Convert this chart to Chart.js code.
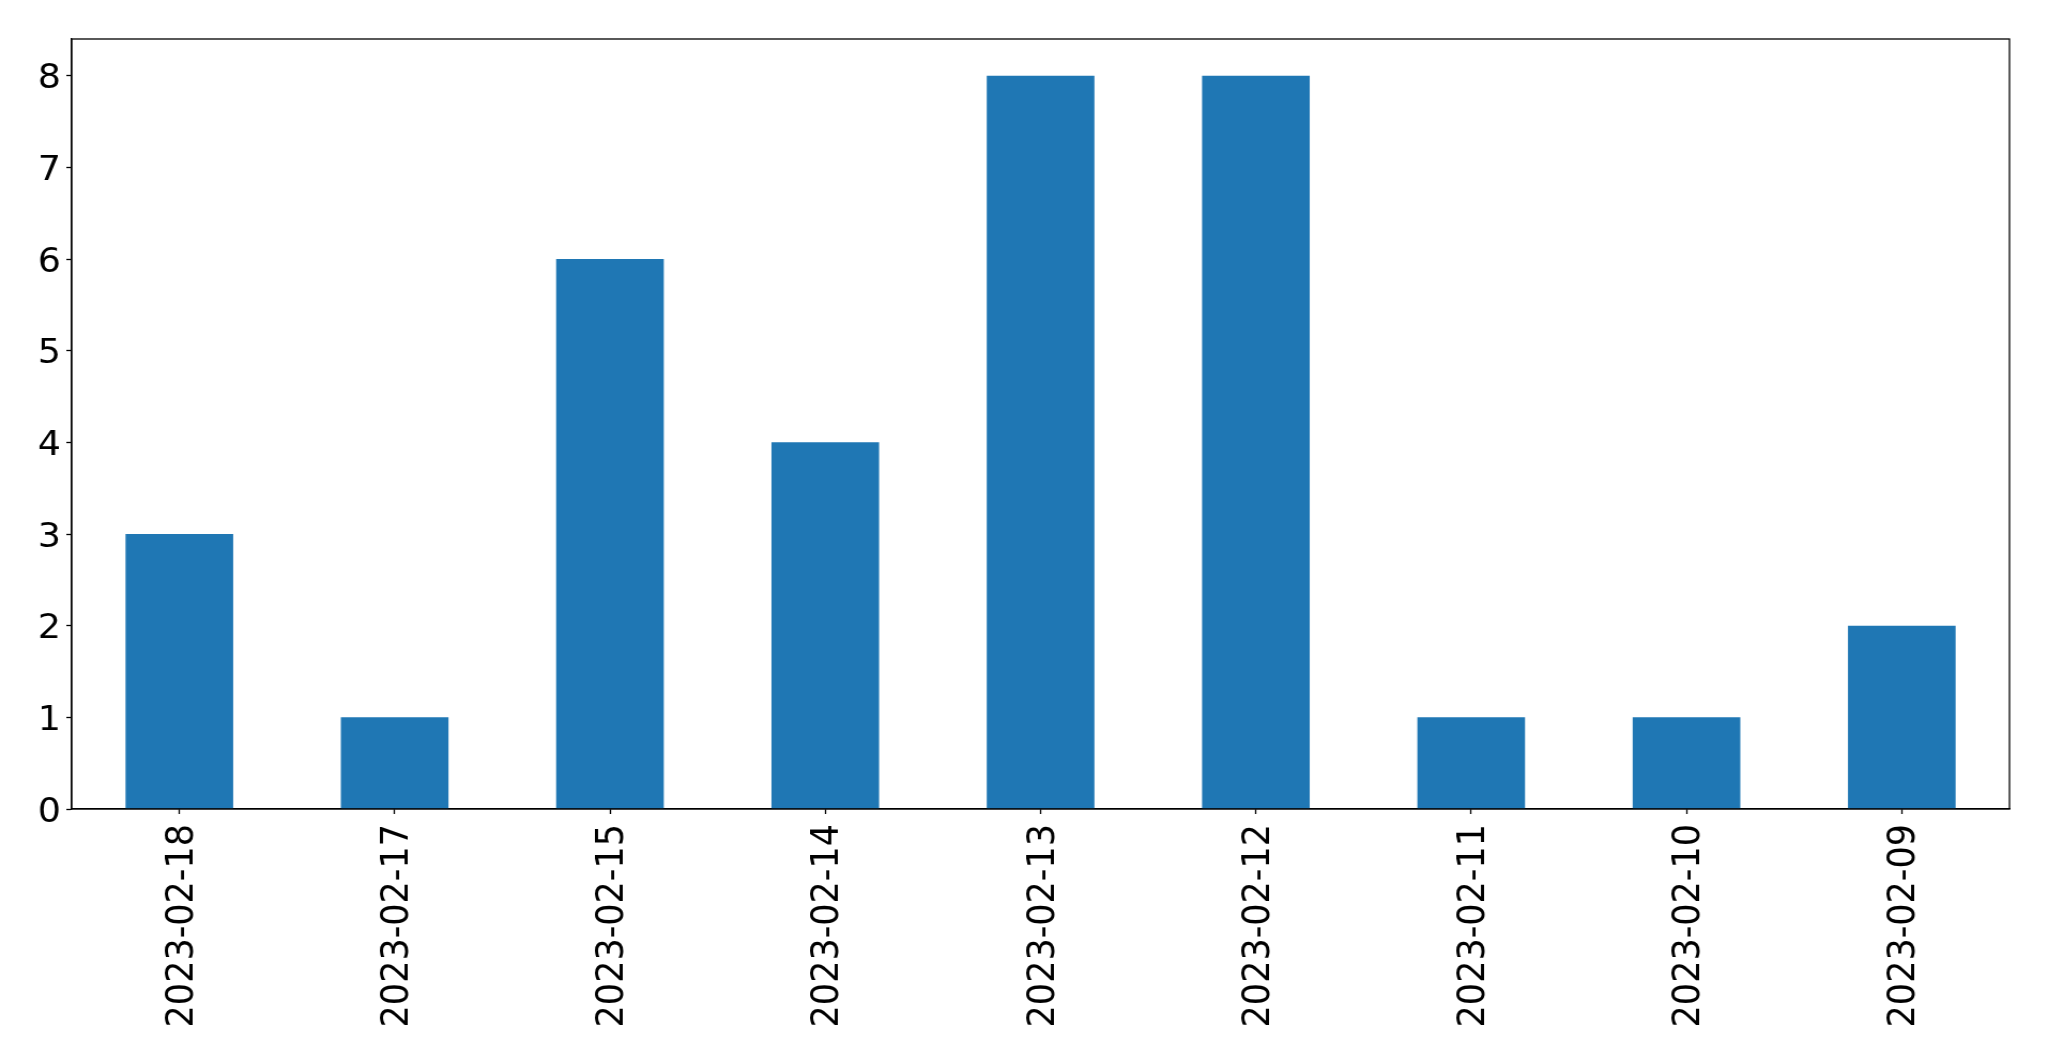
<!DOCTYPE html>
<html>
<head>
<meta charset="utf-8">
<script src="https://cdn.jsdelivr.net/npm/chart.js@4.4.1/dist/chart.umd.min.js"></script>
<style>
    html, body { margin: 0; padding: 0; background: #fff; overflow: hidden; }
    /* la imagen de referencia está un poco estirada en horizontal */
    #wrap { width: 1915px; height: 1061px; transform: scaleX(1.07); transform-origin: 0 0; }
</style>
</head>
<body>
<div id="wrap"><canvas id="chart" width="1915" height="1061"></canvas></div>
<script>
// Datos del gráfico
const dates = ['2023-02-18', '2023-02-17', '2023-02-15', '2023-02-14', '2023-02-13',
    '2023-02-12', '2023-02-11', '2023-02-10', '2023-02-09'];
const counts = [3, 1, 6, 4, 8, 8, 1, 1, 2];
const yTicks = [0, 1, 2, 3, 4, 5, 6, 7, 8];

const barColor = '#1f77b4';
const fontFamily = '"DejaVu Sans", sans-serif';

// Marco completo alrededor del área del gráfico (estilo matplotlib)
const frame = {
    id: 'frame',
    afterDraw(chart) {
        const { ctx, chartArea: a } = chart;
        ctx.save();
        ctx.strokeStyle = '#000';
        ctx.lineWidth = 1.3;
        ctx.strokeRect(a.left, a.top, a.right - a.left, a.bottom - a.top);
        ctx.restore();
    }
};

new Chart(document.getElementById('chart'), {
    type: 'bar',
    data: {
        labels: dates,
        datasets: [{
            data: counts,
            backgroundColor: barColor,
            barPercentage: 0.5,
            categoryPercentage: 1.0
        }]
    },
    options: {
        responsive: false,
        animation: false,
        layout: { padding: { left: 0, top: 39, right: 37, bottom: 0 } },
        plugins: {
            legend: { display: false },
            tooltip: { enabled: false }
        },
        scales: {
            x: {
                afterFit: (s) => { s.height = 252; },
                grid: {
                    offset: false,
                    drawOnChartArea: false,
                    tickLength: 5,
                    tickColor: '#000',
                    tickWidth: 1.3
                },
                border: { color: '#000', width: 1.3 },
                ticks: {
                    autoSkip: false,
                    minRotation: 90,
                    maxRotation: 90,
                    padding: 10,
                    labelOffset: 3,
                    color: '#000',
                    font: { family: fontFamily, size: 35 }
                }
            },
            y: {
                min: 0,
                max: 8.4,
                afterFit: (s) => { s.width = 67; },
                afterBuildTicks: (s) => { s.ticks = yTicks.map((v) => ({ value: v })); },
                grid: {
                    drawOnChartArea: false,
                    tickLength: 5,
                    tickColor: '#000',
                    tickWidth: 1.3
                },
                border: { color: '#000', width: 1.3 },
                ticks: {
                    padding: 5,
                    labelOffset: 4,
                    color: '#000',
                    font: { family: fontFamily, size: 34 }
                }
            }
        }
    },
    plugins: [frame]
});
</script>
</body>
</html>
